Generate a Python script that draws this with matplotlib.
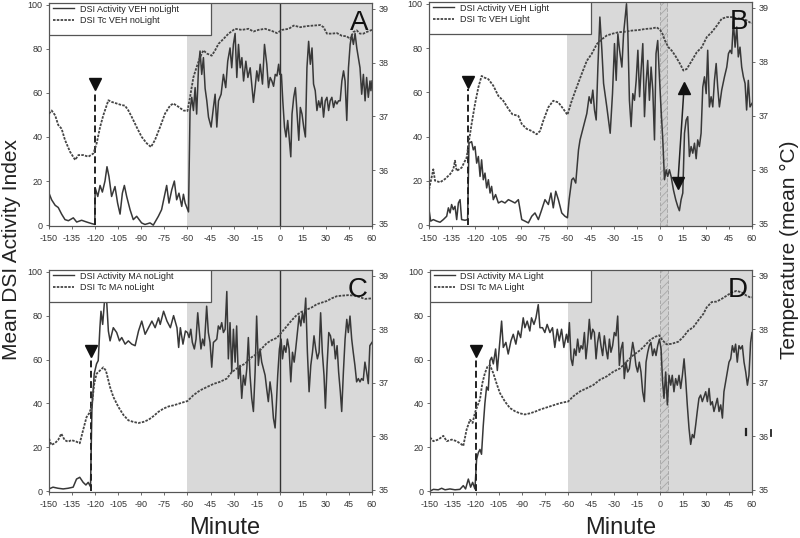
import matplotlib
matplotlib.use("Agg")
import matplotlib.pyplot as plt
from matplotlib.patches import Rectangle
from matplotlib.lines import Line2D

plt.rcParams['font.family'] = ['Liberation Sans', 'DejaVu Sans']
plt.rcParams['axes.unicode_minus'] = False
plt.rcParams['hatch.linewidth'] = 0.6

# ---------------- data (minute, value) ----------------
act_A = [(-150,14.5),(-148.3,11.5),(-146,9),(-144,8),(-141.8,5),(-139.6,2.5),(-137.4,2),(-134.2,3.3),(-132,1.4),(-128.8,2.2),(-125.5,1.4),(-122.3,0.7),(-120.2,0.3),(-120,17),(-118.3,13),(-116.8,18),(-115.3,15),(-113.6,20),(-112.3,26.5),(-111,22),(-109.3,13),(-107.1,17.5),(-105.4,10),(-103.8,5),(-102.3,14.5),(-101,18),(-99.5,13),(-97.3,7),(-95.2,2.5),(-93,4),(-89.8,1),(-87.6,0.3),(-84.3,1),(-82.2,0),(-78.9,4),(-76.8,7),(-74.6,14.5),(-73.5,18),(-72,10),(-70.2,16),(-68.5,20),(-67,11.5),(-65.5,14.5),(-63.7,8.5),(-62.6,14),(-61.5,10),(-59.3,6),(-58.3,52),(-57.2,58),(-56.1,52),(-55,62.4),(-54,50.4),(-52.8,71.4),(-51.8,79),(-50.7,68.4),(-49.6,76),(-48.5,62),(-47.4,56.4),(-46.3,49),(-44.6,44.5),(-43.1,53.4),(-42,59.4),(-40.9,44.5),(-39.8,56.4),(-38.1,59.4),(-36.6,68.4),(-35.1,62.4),(-33.8,74.4),(-32.3,80.4),(-31.2,71.4),(-30.1,82),(-29,87),(-27.9,67),(-26.8,82),(-25.7,71.4),(-24.6,76),(-23.5,65.4),(-22,74.4),(-20.7,67),(-19.2,71.4),(-18.2,64),(-17.1,55.7),(-16,62.4),(-14.9,70),(-13.8,65.4),(-12.7,73),(-11.2,64),(-9.9,82),(-8.4,73),(-7.3,62.4),(-6.2,67),(-5.1,65.4),(-4,63),(-2.9,68.4),(-1.8,67.7),(-0.7,73),(0,68.4),(1.1,68.4),(2,56.4),(3.1,44.5),(4.1,40),(5.2,47.5),(6.3,38.5),(7.2,31),(8,50.4),(9.1,58),(10.2,62.4),(11.3,50.4),(12.4,38.5),(13.4,53.4),(14.5,50.4),(15.6,44.5),(16.7,40),(17.7,71.4),(18.8,83.4),(19.9,73),(21,80.4),(22,64),(23.1,61),(24.2,52),(25.3,56.4),(26.3,53.4),(27.4,58),(28.5,49),(29.6,56.4),(30.7,58),(31.8,52),(32.8,56.4),(33.9,58),(35,53.4),(36.1,56.4),(37.2,55),(38.2,56.4),(39.3,56.4),(40.4,65.4),(41.5,70),(42.5,65.4),(43.6,47.5),(44.7,71.4),(45.8,82),(46.8,86.4),(47.9,82),(49,87),(50.1,80.4),(51.1,76),(52.2,71.4),(53.3,59.4),(54.4,68.4),(55.5,56.4),(56.5,67),(57.6,58),(58.7,65.4),(59.3,61),(60,65.4)]
tc_A = [(-150,37.05),(-148.3,37.11),(-146,37.02),(-144,36.84),(-141.8,36.77),(-139.6,36.56),(-136.3,36.34),(-133,36.19),(-130.9,36.28),(-127.7,36.28),(-124.4,36.25),(-121.1,36.31),(-119,36.5),(-116.8,36.8),(-114.7,37.02),(-111.4,37.3),(-109.3,37.27),(-106,37.24),(-102.8,37.21),(-100.6,37.2),(-98.4,37.11),(-96.2,36.99),(-93,36.8),(-89.8,36.62),(-86.5,36.5),(-83.7,36.43),(-81.1,36.56),(-77.8,36.8),(-74.6,37.05),(-71.3,37.2),(-69.2,37.24),(-65.9,37.18),(-62.6,37.11),(-60,37.1),(-58.3,37.36),(-56.1,37.73),(-54,37.92),(-51.8,38.1),(-49.6,38.23),(-47.4,38.17),(-44.2,38.13),(-42,38.23),(-39.8,38.35),(-36.6,38.44),(-33.3,38.54),(-29,38.63),(-24.6,38.61),(-20.3,38.63),(-17.1,38.58),(-13.8,38.61),(-9.5,38.63),(-5.1,38.59),(-1.8,38.55),(1.5,38.61),(5.9,38.63),(9.1,38.69),(13.4,38.66),(17.7,38.68),(22,38.69),(26.3,38.7),(28.5,38.66),(30.7,38.54),(33.9,38.54),(37.2,38.55),(40.4,38.5),(43.6,38.49),(45.8,38.44),(47.9,38.57),(50.1,38.6),(52.2,38.54),(54.4,38.54),(56.5,38.57),(60,38.61)]

act_B = [(-150,7),(-148.9,1.8),(-147.2,2.5),(-145,1.8),(-142.8,1.3),(-140.7,2.5),(-138.5,4),(-137.4,7.8),(-136.3,5.5),(-135.3,9.3),(-134.2,7),(-133.1,8.5),(-132,2.5),(-130.9,10),(-129.8,11.5),(-128.8,2.5),(-126.6,2.2),(-124.9,2.5),(-124,37),(-122.3,37.7),(-121.2,34),(-120.1,35.5),(-119,28),(-117.9,31),(-116.8,22),(-115.8,29.5),(-114.7,20.5),(-113.6,23.5),(-112.5,16.8),(-111.4,20.5),(-110.3,14.5),(-109.3,17.5),(-108.2,11.5),(-106.7,13.8),(-104.9,10),(-102.8,10.8),(-100.6,10),(-98.4,11.5),(-96.3,10.8),(-94.1,10),(-91.9,11.5),(-89.7,2.5),(-87.6,1.8),(-85.4,1),(-83.2,4),(-81.1,5.5),(-78.9,2.5),(-76.7,7),(-74.6,11.5),(-72.4,9.3),(-70.7,14.5),(-69.2,7.8),(-67.6,15.3),(-65.9,11.5),(-63.7,5.5),(-61.6,4),(-60,3.3),(-58.9,11.5),(-57.2,20.5),(-56.1,21.3),(-54.6,19),(-52.8,34),(-51.8,38.5),(-49.6,44.5),(-47.4,50.4),(-45.9,58),(-44.6,55),(-43.5,61),(-42.4,52),(-41.3,47.5),(-40.2,71.4),(-38.9,94),(-37.6,79),(-36.5,64),(-34.4,53.4),(-32.2,41.5),(-30.7,59.4),(-29.4,82),(-28.3,65.4),(-27.2,86.4),(-26.1,79),(-24.6,71.4),(-23.5,86.4),(-21.6,100),(-20.7,86.4),(-19.7,56.4),(-18.6,44.5),(-17.5,59.4),(-16.4,56.4),(-15.3,65.4),(-14.2,79),(-13.1,58),(-12.1,70),(-11,82),(-9.9,49),(-8.9,64),(-7.8,74.4),(-6.7,56.4),(-5.6,71.4),(-4.5,61),(-3.4,38.5),(-2.4,77.5),(-1.3,83.4),(-0.2,67),(0.9,52),(2,38.5),(3.1,20.5),(4.2,25),(5.2,22),(6.3,25),(7.4,22),(8.9,16),(10.4,11.5),(11.7,8.5),(12.8,6.5),(13.9,11.5),(15,14.5),(16.1,41.5),(17.2,47.5),(18.2,49),(19.3,31),(20.4,35.5),(21.5,32.5),(22.6,37),(23.7,30),(24.7,38.5),(25.8,35.5),(26.9,41.5),(28,62.4),(29.1,67),(30.2,59.4),(31.2,79),(32.3,53.4),(33.4,58),(34.5,53.4),(35.6,65.4),(36.7,73),(37.7,62.4),(38.8,53.4),(40.3,61),(42.1,67),(43.6,71.4),(44.7,77.5),(45.8,79),(46.8,77.5),(47.9,92),(49,80.4),(50.1,89.5),(51.1,76),(52.2,80.4),(53.3,71.4),(54.4,67),(55.5,64),(56.5,52),(57.6,65.4),(58.7,53.4),(60,55)]
tc_B = [(-150,35.64),(-148.3,35.86),(-147.2,36.01),(-146.1,35.8),(-142.8,35.77),(-139.6,35.83),(-136.3,35.92),(-134.2,36.01),(-133.1,36.17),(-132,35.98),(-128.8,36.04),(-125.5,36.23),(-124,36.54),(-122.3,36.85),(-120.1,37.22),(-117.9,37.53),(-115.8,37.74),(-114,37.71),(-111.4,37.68),(-108.2,37.56),(-104.9,37.37),(-101.7,37.28),(-98.4,37.13),(-95.8,37.03),(-91.9,37.0),(-89.7,36.85),(-86.5,36.76),(-83.2,36.72),(-80,36.66),(-77.8,36.72),(-75.7,36.91),(-72.4,37.16),(-69.2,37.28),(-65.9,37.25),(-62.7,37.13),(-60,37.02),(-57.2,37.28),(-54,37.53),(-50.7,37.78),(-47.4,38.02),(-44.2,38.15),(-40.9,38.33),(-37.6,38.42),(-34.4,38.49),(-31.1,38.52),(-26.8,38.55),(-22.5,38.56),(-18.2,38.58),(-13.8,38.59),(-9.5,38.61),(-5.2,38.62),(-1.9,38.64),(0.3,38.59),(1.8,38.52),(3.5,38.39),(5.7,38.27),(7.8,38.21),(10,38.12),(13.3,37.96),(15.4,37.84),(17.6,37.87),(20.8,38.02),(24.1,38.18),(27.3,38.27),(30.6,38.46),(33.8,38.55),(37.1,38.67),(40.3,38.8),(43.6,38.83),(46.8,38.83),(50.1,38.81),(53.3,38.8),(56.5,38.77),(58.7,38.73),(60,38.72)]

act_C = [(-150,1),(-147.4,1.8),(-144.1,1.3),(-140.8,1),(-137.6,1.3),(-134.3,1.8),(-132.1,5.5),(-130,6.3),(-127.8,4),(-126,2.8),(-124.5,4),(-123,2),(-122.1,37),(-120.6,53.5),(-119.1,58),(-118,59.5),(-116.9,74.5),(-116.2,82),(-115.1,76),(-113.6,89.5),(-112.5,86.5),(-111.4,73),(-110.3,68.5),(-108.2,74.5),(-106,72.3),(-104.2,68.5),(-102.7,70),(-100.5,67),(-98.4,68.5),(-96.2,67),(-94,66.3),(-91.8,73),(-89.7,77.5),(-87.5,71.5),(-85.3,74.5),(-83.1,77.5),(-81,74.5),(-78.8,79),(-77.7,76),(-75.5,82),(-73.3,77.5),(-71.1,74.5),(-69,80),(-66.8,74.5),(-65.7,65.5),(-64.6,74.5),(-62.9,67),(-61.3,73),(-60,72.3),(-58.9,70),(-57.8,73.8),(-56.8,67.8),(-55.5,64.8),(-54.4,69.3),(-53.3,81.3),(-52.2,72.3),(-51.2,64.8),(-50.1,69.3),(-49,66.3),(-47.5,84.3),(-46.4,72.3),(-45.3,67.8),(-44.2,56.5),(-43.1,67.8),(-42,68.5),(-40.9,69.3),(-39.9,75.3),(-38.8,73.8),(-37.7,76.8),(-36.6,72.3),(-35.5,73.8),(-34.4,91),(-33.4,60.3),(-32.3,76.8),(-31.2,54.3),(-30.1,73.8),(-29,58.8),(-28,75.3),(-26.9,51.3),(-25.8,57.3),(-24.7,42.3),(-23.6,52.8),(-22.5,48.3),(-21.4,55.8),(-20.4,70),(-19.3,52.8),(-18.2,42.3),(-17.1,36.3),(-16,54.3),(-15,79.8),(-13.9,57.3),(-12.8,64.8),(-11.7,58.8),(-10.6,55.8),(-9.5,52.8),(-8.5,46.8),(-7.4,40.8),(-6.3,49.8),(-5.2,43.8),(-4.1,33.3),(-3,28.8),(-2.2,39.3),(-1.3,52.8),(-0.2,64.8),(0.9,69.3),(1.8,60.3),(2.9,66.3),(4,63.3),(5,69.3),(6.1,64.8),(7.2,49.8),(8.3,63.3),(9.4,58.8),(10.4,64.8),(11.5,72.3),(12.6,79.8),(13.7,75.3),(14.8,81.3),(15.8,76.8),(16.9,88),(18,63.3),(19.1,45.3),(20.2,57.3),(21.3,63.3),(22.3,70.8),(23.4,64.8),(24.5,60.3),(25.6,63.3),(26.6,81.3),(27.7,63.3),(28.8,52.8),(29.7,37.8),(30.8,57.3),(31.9,72.3),(33,70.8),(34,66.3),(35.1,69.3),(36.2,60.3),(37.3,66.3),(38.3,54.3),(39.4,45.3),(40.3,36.3),(41.4,54.3),(42.5,69.3),(43.6,78.3),(44.6,72.3),(45.7,79.8),(46.8,69.3),(47.8,63.3),(48.9,57.3),(50,49.8),(51.1,51.3),(52.2,49.8),(53.2,51.3),(54.3,50.5),(55.4,58.8),(56.5,54.3),(57.6,49),(58.6,66.3),(60,67.8)]
tc_C = [(-150,35.96),(-148.5,35.84),(-146.3,35.87),(-144.1,35.93),(-142,36.05),(-139.8,35.93),(-137.6,35.9),(-135.4,35.93),(-132.1,35.9),(-130,35.87),(-127.8,36.12),(-125.6,36.36),(-123.9,36.43),(-122.3,36.55),(-120.6,36.98),(-119.1,37.17),(-116.9,37.23),(-114.7,37.29),(-113,37.23),(-110.3,36.92),(-108.2,36.74),(-104.9,36.55),(-101.6,36.4),(-98.4,36.3),(-95.1,36.27),(-91.8,36.25),(-88.6,36.27),(-85.3,36.31),(-82,36.38),(-78.8,36.46),(-75.5,36.52),(-72.2,36.56),(-69,36.58),(-65.7,36.61),(-62.4,36.64),(-60,36.66),(-56.1,36.77),(-51.8,36.86),(-47.5,36.92),(-43.1,36.98),(-38.8,37.02),(-34.4,37.08),(-31.2,37.2),(-26.9,37.29),(-22.5,37.36),(-18.2,37.48),(-15,37.54),(-11.7,37.64),(-8.5,37.74),(-5.2,37.8),(-1.9,37.84),(1.4,37.95),(4.6,38.06),(7.8,38.17),(11.1,38.27),(14.3,38.33),(17.6,38.37),(20.8,38.41),(24.1,38.47),(27.3,38.5),(30.6,38.53),(33.8,38.58),(37.1,38.62),(40.3,38.63),(44.6,38.64),(48.9,38.63),(52.2,38.6),(55.4,38.57),(60,38.58)]

act_D = [(-150,0),(-147.8,0.8),(-144.6,0.6),(-142.4,1.3),(-140.2,0.6),(-137,1),(-133.7,0.6),(-130.5,0.8),(-128.3,2.5),(-126.8,1),(-125,5.5),(-123.5,1.8),(-122.2,4),(-120.7,1),(-119.6,14.5),(-118.5,17.5),(-117.4,19),(-116.4,16.8),(-115.3,29.5),(-114.2,40),(-113.1,47.5),(-112,46),(-110.9,59.5),(-109.8,61),(-108.7,58),(-107.2,64.8),(-106.1,55),(-104.4,68.5),(-103.3,77.5),(-102.2,65.5),(-100.5,67.8),(-99,62.5),(-97.2,68.5),(-95.7,71.5),(-94,67),(-92.5,73),(-90.9,70),(-89.2,79),(-88.1,74.5),(-86.6,77.5),(-84.9,73),(-83.8,79),(-82.2,76),(-80.9,79),(-79.4,85),(-78.3,74.5),(-76.6,74.5),(-75.1,72.3),(-73.6,76),(-71.8,72.3),(-70.1,74.5),(-68.6,65.5),(-67,73.8),(-65.7,68.5),(-64.2,73.8),(-62.7,65.5),(-61,71.5),(-60,67.8),(-59.1,76.8),(-58,60.3),(-57,57.3),(-55.9,64.8),(-54.8,61.8),(-53.7,69.3),(-52.6,63.3),(-51.5,66.3),(-50.4,64.8),(-49.3,72.3),(-48.3,60.3),(-47.2,67.8),(-46.1,78.3),(-45,69.3),(-43.9,73.8),(-42.8,72.3),(-41.7,60.3),(-40.7,67.8),(-39.6,72.3),(-38.5,66.3),(-37.4,61.8),(-36.3,70.8),(-35.2,64.8),(-34.1,60.3),(-33,69.3),(-32,63.3),(-30.9,66.3),(-29.8,72.3),(-28.7,70.8),(-27.6,79.8),(-26.5,57.3),(-25.4,64.8),(-24.3,67.8),(-23.3,51.3),(-22.2,58.8),(-21.1,54.3),(-20,55.8),(-18.9,61.8),(-17.8,67.8),(-16.7,63.3),(-15.7,57.3),(-14.6,54.3),(-13.5,58.8),(-12.4,54.3),(-11.3,45.3),(-10.2,40.8),(-9.1,58.8),(-8,63.3),(-7,66.3),(-5.9,67.8),(-4.8,61.8),(-3.7,64.8),(-2.6,61.8),(-1.5,66.3),(-0.4,69.3),(0.7,64.8),(1.7,49.8),(2.6,42.3),(3.7,54.3),(4.8,39.3),(5.9,52.8),(7,48.3),(8,52.8),(9.1,45.3),(10.2,51.3),(11.3,48.3),(12.4,52.8),(13.5,46.8),(14.6,52.8),(15.7,60.3),(16.7,51.3),(17.8,39.3),(18.9,28.8),(20,21.3),(21.1,25.8),(22.2,24.3),(23.3,30.3),(24.3,36.3),(25.4,42.3),(26.5,43.8),(27.6,40.8),(28.7,43),(29.8,45.3),(30.9,40.8),(32,46.8),(33,39.3),(34.1,40.8),(35.2,36.3),(36.3,39.3),(37.4,42.3),(38.5,36.3),(39.6,39.3),(40.7,33.3),(41.7,45.3),(42.8,49.8),(43.9,54.3),(45,58.8),(46.1,60.3),(47.2,66.3),(48.3,63.3),(49.3,67),(50.4,58.8),(51.5,66.3),(52.6,64.8),(53.7,66.3),(54.8,58.8),(55.9,54.3),(57,48.3),(58,52.8),(59.1,67.8),(60,72.3)]
tc_D = [(-150,35.98),(-147.8,35.91),(-144.6,35.94),(-141.3,36.01),(-139.1,35.91),(-135.8,35.94),(-132.6,35.91),(-129.4,35.85),(-128.3,35.82),(-126.1,36.13),(-123.9,36.31),(-122.2,36.25),(-120.7,36.44),(-119.2,36.56),(-117.4,36.69),(-115.9,36.99),(-114.2,37.18),(-112.6,37.3),(-110.9,37.33),(-108.7,37.18),(-106.6,36.99),(-104.4,36.81),(-101.1,36.65),(-97.9,36.53),(-94.6,36.47),(-91.3,36.43),(-88.1,36.41),(-84.9,36.43),(-81.6,36.46),(-78.3,36.5),(-75.1,36.53),(-71.8,36.56),(-68.6,36.59),(-65.3,36.62),(-62.1,36.64),(-60,36.65),(-56.5,36.75),(-52.2,36.84),(-47.8,36.9),(-43.5,36.96),(-39.1,37.06),(-34.8,37.12),(-30.4,37.21),(-26.1,37.27),(-21.7,37.4),(-17.4,37.52),(-13,37.61),(-9.8,37.7),(-6.5,37.8),(-3.3,37.86),(-0.4,37.89),(1.5,37.8),(4.3,37.72),(7.6,37.73),(12,37.77),(15.2,37.86),(18.5,37.98),(21.7,38.04),(25,38.17),(28.3,38.29),(30.4,38.41),(33.7,38.51),(37,38.52),(40.2,38.57),(43.5,38.63),(46.7,38.69),(50,38.72),(53.3,38.69),(56.5,38.63),(58.7,38.6),(60,38.6)]

panel_letters = ["A", "B", "C", "D"]
legend_act = ["DSI Activity VEH noLight", "DSI Activity VEH Light", "DSI Activity MA noLight", "DSI Activity MA Light"]
legend_tc = ["DSI Tc VEH noLight", "DSI Tc VEH Light", "DSI Tc MA noLight", "DSI Tc MA Light"]
injection_minute = [-120, -124.5, -122.8, -120]
injection_marker_value = [64, 64.5, 64, 64]
light_on = [False, True, False, True]          # hatched light pulse 0..5 min
dark_start, dark_end = -60, 60
light_start, light_end = 0, 5
arrow_B_low = (11.8, 19)
arrow_B_high = (15.8, 62)
xticks = list(range(-150, 61, 15))
yticks_left = [0, 20, 40, 60, 80, 100]
yticks_right = [35, 36, 37, 38, 39]

# ---------------- layout ----------------
W, H = 800, 538
fig = plt.figure(figsize=(W / 100, H / 100), dpi=100)
boxes = [(49, 3, 372, 226), (429, 2, 752, 226), (49, 270, 372, 492), (430, 270, 752, 492)]
acts = [act_A, act_B, act_C, act_D]
tcs = [tc_A, tc_B, tc_C, tc_D]

ACT_COL = '#383838'
TC_COL = '#454545'
SPINE = '#555555'
TXT = '#333333'

for i in range(4):
    l, t, r, b = boxes[i]
    ax = fig.add_axes([l / W, 1 - b / H, (r - l) / W, (b - t) / H])
    ax2 = ax.twinx()
    ax.set_xlim(-150, 60)
    ax.set_ylim(-0.4, 100.8)
    ax2.set_ylim(34.96, 39.11)

    ax.axvspan(dark_start, dark_end, color='#d9d9d9', lw=0, zorder=0)
    if light_on[i]:
        ax.axvspan(light_start, light_end, facecolor='#d0d0d0', edgecolor='#a8a8a8',
                   hatch='////', lw=0.7, ls='--', zorder=0.5)
    else:
        ax.axvline(0, color='#333333', lw=1.0, zorder=1)

    at, av = zip(*acts[i])
    tt, tv = zip(*tcs[i])
    ax.plot(at, av, color=ACT_COL, lw=1.1, zorder=3)
    ax2.plot(tt, tv, color=TC_COL, lw=1.3, ls=(0, (1.4, 0.7)), zorder=3)

    # injection marker
    xm = injection_minute[i]
    ym = injection_marker_value[i]
    ax.plot([xm, xm], [0, ym - 3], color='#222222', lw=1.4, ls=(0, (3.5, 1.8)), zorder=4)
    ax.plot([xm], [ym], marker='v', ms=9, color='#111111', zorder=5)

    if i == 1:
        ax.plot([arrow_B_low[0], arrow_B_high[0]], [arrow_B_low[1], arrow_B_high[1]],
                color='#222222', lw=1.1, zorder=5)
        ax.plot([arrow_B_low[0]], [arrow_B_low[1]], marker='v', ms=8, color='#111111', zorder=6)
        ax.plot([arrow_B_high[0]], [arrow_B_high[1]], marker='^', ms=8, color='#111111', zorder=6)

    ax.set_xticks(xticks)
    ax.set_xticklabels([str(v) for v in xticks])
    ax.set_yticks(yticks_left)
    ax2.set_yticks(yticks_right)
    ax.tick_params(axis='both', labelsize=6.5, length=2.5, width=0.6, pad=2,
                   colors=SPINE, labelcolor=TXT)
    ax.tick_params(axis='x', pad=3)
    ax2.tick_params(axis='y', labelsize=6.5, length=2.5, width=0.6, pad=2,
                    colors=SPINE, labelcolor=TXT)
    for a in (ax, ax2):
        for s in a.spines.values():
            s.set_color(SPINE)
            s.set_linewidth(0.8)

    # legend box
    ax2.add_patch(Rectangle((0, 0.858), 0.5, 0.142, transform=ax2.transAxes,
                            facecolor='white', edgecolor='#555555', lw=0.9, zorder=8))
    handles = [Line2D([], [], color=ACT_COL, lw=1.0),
               Line2D([], [], color=TC_COL, lw=1.3, ls=(0, (1.4, 0.7)))]
    leg = ax2.legend(handles, [legend_act[i], legend_tc[i]], loc='upper left',
                     bbox_to_anchor=(0.005, 1.005), frameon=False, fontsize=6.5,
                     handlelength=2.3, handletextpad=0.6, labelspacing=0.3,
                     borderpad=0.3, borderaxespad=0.0)
    leg.set_zorder(9)
    for txt in leg.get_texts():
        txt.set_color('#222222')

    ax2.text(0.988, 0.97, panel_letters[i], transform=ax2.transAxes, ha='right', va='top',
             fontsize=20, color='#111111', zorder=10)

fig.text(12 / W, 1 - 250 / H, "Mean DSI Activity Index", rotation=90, ha='center', va='center',
         fontsize=15, color='#222222')
fig.text(789 / W, 1 - 250 / H, "Temperature (mean \u00b0C)", rotation=90, ha='center', va='center',
         fontsize=15, color='#222222')
fig.text(225 / W, 1 - 528 / H, "Minute", ha='center', va='center', fontsize=17, color='#222222')
fig.text(621 / W, 1 - 528 / H, "Minute", ha='center', va='center', fontsize=17, color='#222222')

# small stray marks seen in the reference
fig.add_artist(Line2D([746 / W, 746 / W], [1 - 429 / H, 1 - 435 / H], color='#222222', lw=1.6))
fig.add_artist(Line2D([771 / W, 771 / W], [1 - 430 / H, 1 - 436 / H], color='#222222', lw=1.3))

fig.savefig("out.png", dpi=100)
